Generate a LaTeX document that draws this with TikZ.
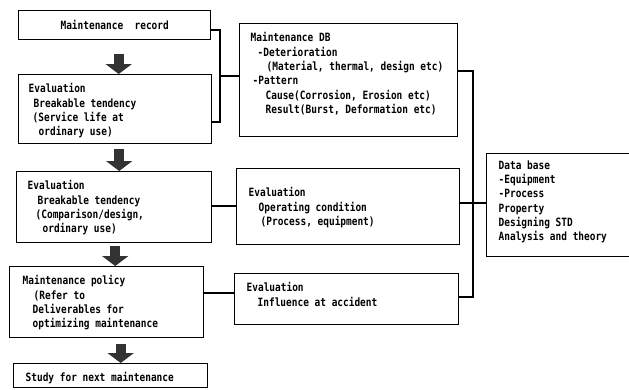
\documentclass[tikz,border=0pt]{standalone}
\usepackage{fontspec}
\setmonofont[FakeStretch=0.83]{DejaVu Sans Mono}
\usetikzlibrary{arrows.meta}
\tikzset{
  every picture/.style={
    x=1pt, y=-1pt,
    line width=1.4pt
  },
  box/.style={
    draw, anchor=north west, inner sep=0pt,
    font=\ttfamily\bfseries\fontsize{11.4}{14.3}\selectfont
  },
  txt/.style={
    anchor=north west, align=left, inner sep=0pt,
    font=\ttfamily\bfseries\fontsize{11.4}{14.3}\selectfont
  },
  link/.style={draw, line width=1.3pt},
  fatarrow/.style={
    draw=black!80, line width=10pt,
    -{Triangle[width=26pt, length=10pt]}
  }
}

\begin{document}
\begin{tikzpicture}
  \useasboundingbox (0,0) rectangle (629,389);
  % left column
  \node [box, minimum width=192, minimum height=29] (rec) at (18,10)
    {Maintenance\ \ record};
  \node [box, minimum width=193, minimum height=69] (evlife) at (18,74) {};
  \node [txt] (evlife-t) at (28,83)
    {Evaluation\\\hspace*{5pt}Breakable tendency\\\hspace*{4pt}(Service life at\\\hspace*{10pt}ordinary use)};
  \node [box, minimum width=195, minimum height=71] (evcomp) at (16,171) {};
  \node [txt] (evcomp-t) at (27,180)
    {Evaluation\\\hspace*{10pt}Breakable tendency\\\hspace*{8pt}(Comparison/design,\\\hspace*{15pt}ordinary use)};
  \node [box, minimum width=194, minimum height=71] (policy) at (9,266) {};
  \node [txt] (policy-t) at (22,275)
    {Maintenance policy\\\hspace*{11pt}(Refer to\\\hspace*{10pt}Deliverables for\\\hspace*{10pt}optimizing maintenance};
  \node [box, minimum width=194, minimum height=24] (study) at (13,363) {};
  \node [txt] (study-t) at (25,372) {Study for next maintenance};
  % middle column
  \node [box, minimum width=218, minimum height=113] (db) at (239,23) {};
  \node [txt] (db-t) at (250,32)
    {Maintenance DB\\\hspace*{7pt}-Deterioration\\\hspace*{16pt}(Material, thermal, design etc)\\\hspace*{2pt}-Pattern\\\hspace*{15pt}Cause(Corrosion, Erosion etc)\\\hspace*{15pt}Result(Burst, Deformation etc)};
  \node [box, minimum width=223, minimum height=76] (evop) at (236,168) {};
  \node [txt] (evop-t) at (248,187)
    {Evaluation\\\hspace*{10pt}Operating condition\\\hspace*{12pt}(Process, equipment)};
  \node [box, minimum width=224, minimum height=51] (evacc) at (234,273) {};
  \node [txt] (evacc-t) at (246,282)
    {Evaluation\\\hspace*{11pt}Influence at accident};
  % right column
  \node [box, minimum width=150, minimum height=103] (data) at (486,153) {};
  \node [txt] (data-t) at (498,160)
    {Data base\\-Equipment\\-Process\\Property\\Designing STD\\Analysis and theory};

  % block arrows
  \draw [fatarrow, shorten <=14pt] ([xshift=4pt]rec.south) -- ([xshift=4pt]rec.south |- evlife.north);
  \draw [fatarrow, shorten <=5pt] ([xshift=4pt]evlife.south) -- ([xshift=4pt]evlife.south |- evcomp.north);
  \draw [fatarrow, shorten <=3pt] ([xshift=1pt]evcomp.south) -- ([xshift=1pt]evcomp.south |- policy.north);
  \draw [fatarrow, shorten <=6pt] ([xshift=14pt]policy.south) -- ([xshift=14pt]policy.south |- study.north);

  % brackets
  \coordinate (jl) at (220,76);
  \coordinate (jr) at (473,203);
  \draw [link] (rec.east |- 0,30) -| (jl) |- (evlife.east |- 0,122);
  \draw [link] (jl) -- (db.west |- jl);
  \draw [link] (evcomp.east |- 0,206) -- (evop.west |- 0,206);
  \draw [link] (policy.east |- 0,293) -- (evacc.west |- 0,293);
  \draw [link] (db.east |- 0,71) -| (jr) |- (evacc.east |- 0,297);
  \draw [link] (evop.east |- jr) -- (data.west |- jr);
\end{tikzpicture}
\end{document}
